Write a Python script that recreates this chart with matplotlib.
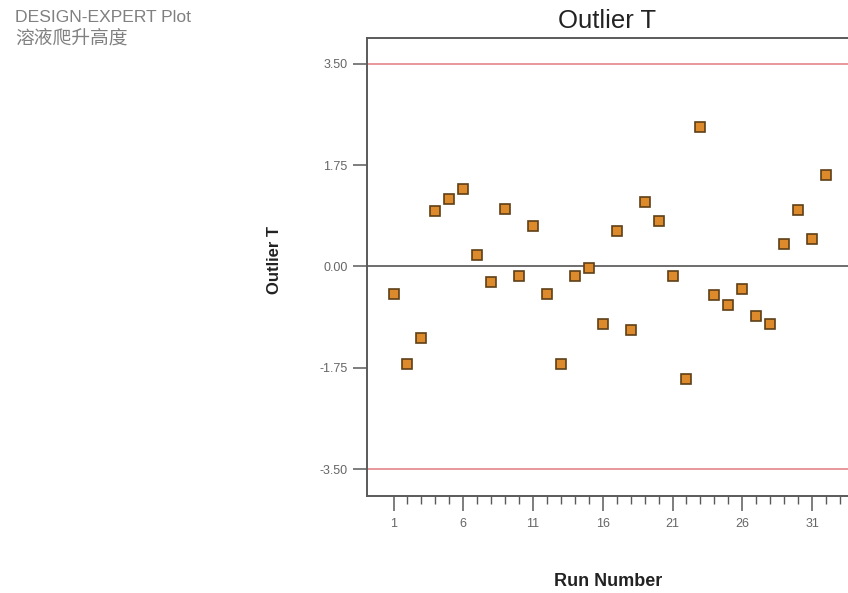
import matplotlib
matplotlib.use("Agg")
import matplotlib.pyplot as plt
from matplotlib.ticker import FixedLocator

plt.rcParams['font.family'] = ['Liberation Sans', 'DejaVu Sans']

# Data
runs = list(range(1, 33))
outlier_t = [-0.48, -1.69, -1.23, 0.95, 1.16, 1.33, 0.20, -0.26, 0.99, -0.16,
             0.70, -0.48, -1.69, -0.16, -0.03, -1.00, 0.61, -1.09, 1.12, 0.79,
             -0.16, -1.95, 2.41, -0.49, -0.66, -0.39, -0.85, -1.00, 0.38, 0.97,
             0.47, 1.58]
limit_hi = 3.50
limit_lo = -3.50
y_ticks = [-3.50, -1.75, 0.00, 1.75, 3.50]
x_major = [1, 6, 11, 16, 21, 26, 31]

W, H = 848, 593
fig = plt.figure(figsize=(W / 100, H / 100), dpi=100)

# axes in pixel terms; right side runs off the canvas like the reference
left, right, top, bottom = 367, 855, 37.5, 496
ax = fig.add_axes([left / W, 1 - bottom / H, (right - left) / W, (bottom - top) / H])

ax.set_xlim(-0.9, 34.08)
ax.set_ylim(-3.96, 3.95)

spine_col = '#5a5a5a'
for s in ['left', 'top', 'bottom']:
    ax.spines[s].set_color(spine_col)
    ax.spines[s].set_linewidth(1.4)
ax.spines['right'].set_visible(False)

ax.axhline(limit_hi, color='#e07a80', lw=1.1, zorder=1)
ax.axhline(limit_lo, color='#e07a80', lw=1.1, zorder=1)
ax.axhline(0, color='#555555', lw=1.2, zorder=1)

ax.plot(runs, outlier_t, ls='none', marker='s', markersize=7.8,
        markerfacecolor='#dc8a2c', markeredgecolor='#5e3f18', markeredgewidth=1.2,
        zorder=3)

ax.yaxis.set_major_locator(FixedLocator(y_ticks))
ax.set_yticklabels([f'{v:.2f}' for v in y_ticks])
ax.xaxis.set_major_locator(FixedLocator(x_major))
ax.set_xticklabels([str(v) for v in x_major])
ax.xaxis.set_minor_locator(FixedLocator(list(range(1, 35))))

ax.tick_params(axis='y', direction='out', length=10, width=1.1, color=spine_col,
               labelsize=9, labelcolor='#666666', pad=4)
ax.tick_params(axis='x', which='major', direction='out', length=11, width=1.1,
               color=spine_col, labelsize=9, labelcolor='#666666', pad=5)
ax.tick_params(axis='x', which='minor', direction='out', length=6, width=1.0,
               color=spine_col)

# titles and labels placed in pixel coordinates
fig.text(607 / W, 1 - 21 / H, 'Outlier T', ha='center', va='center',
         fontsize=18.5, color='#222222')
fig.text(608 / W, 1 - 582 / H, 'Run Number', ha='center', va='center',
         fontsize=13, fontweight='bold', color='#222222')
fig.text(274.5 / W, 1 - 260.5 / H, 'Outlier T', ha='center', va='center',
         rotation=90, fontsize=12, fontweight='bold', color='#222222')

fig.text(15 / W, 1 - 18 / H, 'DESIGN-EXPERT Plot', ha='left', va='center',
         fontsize=12.6, color='#808080')
fig.text(15 / W, 1 - 38.5 / H, '溶液爬升高度', ha='left', va='center',
         fontsize=13.5, color='#808080', family=['Noto Sans CJK SC', 'DejaVu Sans'])

fig.savefig('out.png', dpi=100)
